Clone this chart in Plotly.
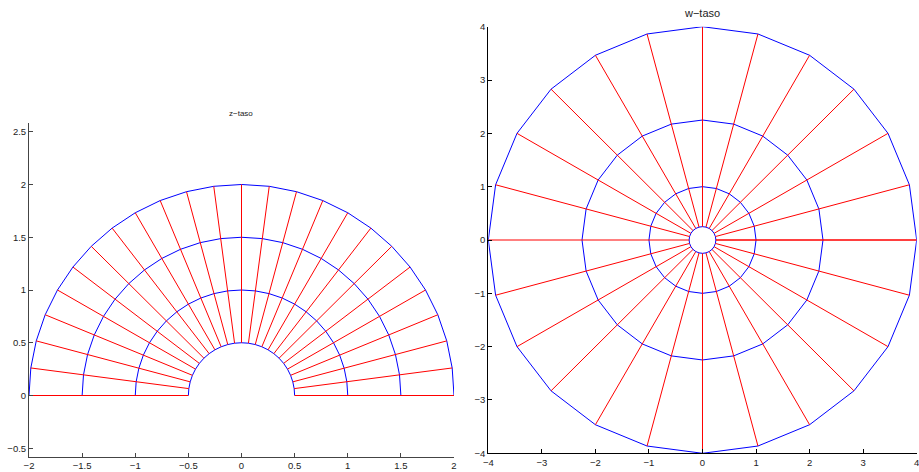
import numpy as np
import plotly.graph_objects as go

# z-plane grid: radii of the half-circles and angles (degrees) of the rays
radii_z = [0.5, 1.0, 1.5, 2.0]
angles_deg = [0, 7.5, 15, 22.5, 30, 37.5, 45, 52.5, 60, 67.5, 75, 82.5, 90,
              97.5, 105, 112.5, 120, 127.5, 135, 142.5, 150, 157.5, 165, 172.5, 180]

# axis ticks
z_xticks = [-2, -1.5, -1, -0.5, 0, 0.5, 1, 1.5, 2]
z_yticks = [-0.5, 0, 0.5, 1, 1.5, 2, 2.5]
w_ticks = [-4, -3, -2, -1, 0, 1, 2, 3, 4]

titles = ["z\u2212taso", "w\u2212taso"]

th = np.deg2rad(np.array(angles_deg))


def grid_lines(mapping):
    ax, ay, rx, ry = [], [], [], []
    for r in radii_z:
        z = r * np.exp(1j * th)
        w = mapping(z)
        ax += list(w.real) + [None]
        ay += list(w.imag) + [None]
    for t in th:
        z = np.array([radii_z[0], radii_z[-1]]) * np.exp(1j * t)
        w = mapping(z)
        rx += list(w.real) + [None]
        ry += list(w.imag) + [None]
    return ax, ay, rx, ry


fig = go.Figure()
for k, (mp, xa, ya) in enumerate([(lambda z: z, "x", "y"), (lambda z: z ** 2, "x2", "y2")]):
    ax, ay, rx, ry = grid_lines(mp)
    fig.add_trace(go.Scatter(x=ax, y=ay, mode="lines", line=dict(color="#0000ff", width=1),
                             xaxis=xa, yaxis=ya, showlegend=False, hoverinfo="skip",
                             cliponaxis=False))
    fig.add_trace(go.Scatter(x=rx, y=ry, mode="lines", line=dict(color="#ff0000", width=1),
                             xaxis=xa, yaxis=ya, showlegend=False, hoverinfo="skip",
                             cliponaxis=False))

W, H = 919, 472


def px(xr):
    return xr / W


def py(yr):
    return (H - yr) / H


font = dict(family="Liberation Sans, Arial, sans-serif", size=9.5, color="#222")

axis_common = dict(showline=True, linewidth=1, ticks="inside", ticklen=4, tickwidth=1,
                   showgrid=False, zeroline=False, mirror=False, tickfont=font,
                   fixedrange=True, automargin=False, ticklabeloverflow="allow")

fig.update_layout(
    width=W, height=H, margin=dict(l=0, r=0, t=0, b=0, pad=0, autoexpand=False),
    paper_bgcolor="white", plot_bgcolor="rgba(0,0,0,0)", hovermode=False,
    xaxis=dict(domain=[px(29), px(454)], range=[-2, 2], tickvals=z_xticks, anchor="y",
               linecolor="#444", tickcolor="#444", **axis_common),
    yaxis=dict(domain=[py(456.7), py(123.3)], range=[-0.58, 2.58], tickvals=z_yticks,
               anchor="x", linecolor="#444", tickcolor="#444", **axis_common),
    xaxis2=dict(domain=[px(488.3), px(916.7)], range=[-4, 4], tickvals=w_ticks, anchor="y2",
                linecolor="black", tickcolor="black", **axis_common),
    yaxis2=dict(domain=[py(453.3), py(26.7)], range=[-4, 4], tickvals=w_ticks,
                anchor="x2", linecolor="black", tickcolor="black", **axis_common),
    annotations=[
        dict(text=titles[0], x=px(241), y=py(113), xref="paper", yref="paper",
             showarrow=False, font=dict(family=font["family"], size=8, color="#222"),
             xanchor="center", yanchor="middle"),
        dict(text=titles[1], x=px(702), y=py(13), xref="paper", yref="paper",
             showarrow=False, font=dict(family=font["family"], size=11, color="#222"),
             xanchor="center", yanchor="middle"),
    ],
)

fig.write_html(
    "out.html",
    config={"displayModeBar": False, "staticPlot": True},
    post_script="document.body.style.margin='0';document.body.style.overflow='hidden';",
)
